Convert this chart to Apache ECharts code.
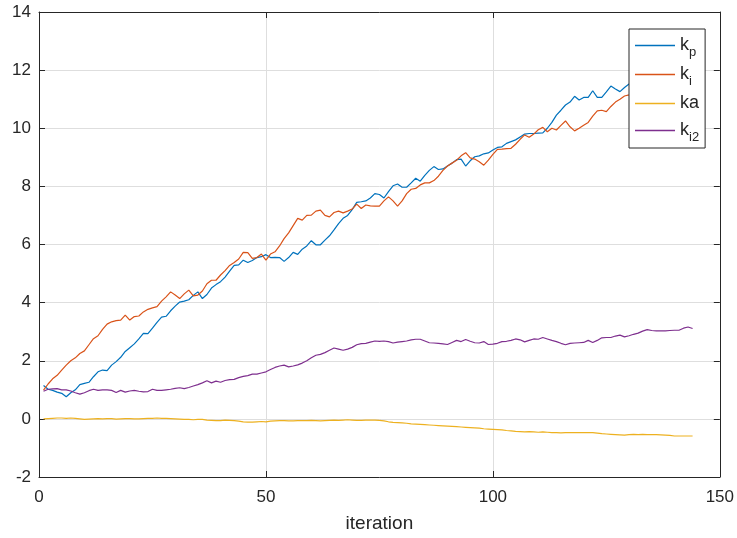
<!DOCTYPE html>
<html>
<head>
<meta charset="utf-8">
<script src="https://cdn.jsdelivr.net/npm/echarts@6/dist/echarts.min.js"></script>
<style>
  html, body { margin: 0; padding: 0; background: #fff; }
  #chart { width: 737px; height: 538px; }
</style>
</head>
<body>
<div id="chart"></div>
<script>
// values, one per iteration (1..144)
const kp = [
  1.15, 1.02, 0.98, 0.92, 0.88, 0.76, 0.90, 1.00, 1.18, 1.22,
  1.26, 1.45, 1.62, 1.68, 1.66, 1.85, 1.97, 2.12, 2.32, 2.45,
  2.58, 2.75, 2.94, 2.93, 3.12, 3.32, 3.50, 3.53, 3.72, 3.88,
  4.02, 4.05, 4.10, 4.25, 4.37, 4.14, 4.28, 4.50, 4.62, 4.72,
  4.88, 5.08, 5.28, 5.30, 5.46, 5.38, 5.45, 5.55, 5.58, 5.65,
  5.55, 5.56, 5.55, 5.42, 5.55, 5.73, 5.66, 5.84, 5.95, 6.13,
  5.99, 5.99, 6.15, 6.30, 6.50, 6.72, 6.90, 7.00, 7.20, 7.45,
  7.47, 7.50, 7.60, 7.75, 7.72, 7.60, 7.82, 8.02, 8.08, 7.97,
  7.97, 8.12, 8.28, 8.18, 8.38, 8.55, 8.68, 8.58, 8.60, 8.70,
  8.80, 8.92, 8.94, 8.70, 8.88, 9.02, 9.05, 9.12, 9.15, 9.25,
  9.34, 9.36, 9.48, 9.54, 9.60, 9.70, 9.80, 9.82, 9.82, 9.83,
  9.84, 10.00, 10.20, 10.45, 10.62, 10.80, 10.90, 11.10, 10.97, 11.06,
  11.06, 11.29, 11.06, 11.06, 11.25, 11.45, 11.35, 11.26, 11.40, 11.52,
  11.60, 11.70, 11.75, 11.85, 11.95, 12.00, 12.10, 12.15, 12.20, 12.30,
  12.35, 12.40, 12.50, 12.55
];
const ki = [
  0.99, 1.20, 1.38, 1.50, 1.68, 1.85, 2.00, 2.10, 2.25, 2.34,
  2.55, 2.76, 2.86, 3.08, 3.26, 3.34, 3.38, 3.40, 3.57, 3.40,
  3.52, 3.54, 3.68, 3.77, 3.82, 3.86, 4.05, 4.20, 4.37, 4.26,
  4.14, 4.30, 4.43, 4.23, 4.26, 4.40, 4.65, 4.77, 4.77, 4.95,
  5.10, 5.28, 5.38, 5.50, 5.73, 5.72, 5.52, 5.55, 5.67, 5.46,
  5.67, 5.75, 5.95, 6.20, 6.40, 6.65, 6.90, 6.84, 7.00, 7.01,
  7.15, 7.18, 7.00, 6.95, 7.10, 7.15, 7.09, 7.15, 7.22, 7.39,
  7.24, 7.36, 7.33, 7.32, 7.32, 7.50, 7.64, 7.50, 7.32, 7.50,
  7.75, 7.90, 7.93, 8.05, 8.12, 8.12, 8.20, 8.35, 8.55, 8.70,
  8.80, 8.90, 9.05, 9.16, 8.98, 8.94, 8.85, 8.73, 8.90, 9.10,
  9.27, 9.28, 9.30, 9.31, 9.45, 9.62, 9.77, 9.69, 9.80, 9.95,
  10.03, 9.88, 10.00, 9.94, 10.10, 10.25, 10.05, 9.91, 10.00, 10.10,
  10.20, 10.42, 10.60, 10.62, 10.57, 10.75, 10.90, 11.00, 11.11, 11.15,
  11.20, 11.30, 11.35, 11.40, 11.50, 11.55, 11.60, 11.65, 11.70, 11.75,
  11.80, 11.85, 11.90, 11.95
];
const ka = [
  0.00, 0.01, 0.02, 0.03, 0.03, 0.02, 0.03, 0.02, 0.00, -0.02,
  -0.01, 0.00, 0.01, 0.00, 0.01, 0.01, -0.01, 0.00, 0.01, 0.01,
  0.00, 0.00, 0.01, 0.02, 0.02, 0.03, 0.02, 0.02, 0.01, 0.00,
  -0.01, -0.02, -0.02, -0.03, -0.02, -0.02, -0.04, -0.05, -0.06, -0.06,
  -0.04, -0.05, -0.06, -0.08, -0.10, -0.11, -0.11, -0.10, -0.09, -0.10,
  -0.08, -0.07, -0.06, -0.06, -0.07, -0.07, -0.06, -0.06, -0.06, -0.05,
  -0.06, -0.07, -0.06, -0.05, -0.04, -0.05, -0.04, -0.03, -0.04, -0.05,
  -0.05, -0.04, -0.04, -0.04, -0.05, -0.07, -0.10, -0.12, -0.13, -0.14,
  -0.15, -0.17, -0.18, -0.19, -0.20, -0.21, -0.22, -0.23, -0.24, -0.25,
  -0.26, -0.27, -0.28, -0.29, -0.30, -0.31, -0.32, -0.34, -0.35, -0.36,
  -0.37, -0.38, -0.40, -0.41, -0.43, -0.44, -0.45, -0.44, -0.45, -0.46,
  -0.45, -0.46, -0.47, -0.47, -0.48, -0.47, -0.47, -0.47, -0.47, -0.47,
  -0.47, -0.47, -0.49, -0.51, -0.52, -0.53, -0.54, -0.55, -0.56, -0.54,
  -0.53, -0.54, -0.53, -0.54, -0.54, -0.54, -0.55, -0.56, -0.57, -0.59,
  -0.59, -0.59, -0.59, -0.59
];
const ki2 = [
  0.95, 1.02, 1.03, 1.04, 1.00, 1.00, 0.96, 0.90, 0.85, 0.90,
  0.97, 1.02, 0.98, 1.00, 1.00, 0.98, 0.91, 0.98, 0.92, 0.96,
  0.98, 0.95, 0.93, 0.94, 1.02, 0.98, 0.98, 1.00, 1.02, 1.05,
  1.07, 1.04, 1.08, 1.13, 1.18, 1.24, 1.31, 1.24, 1.30, 1.26,
  1.32, 1.35, 1.36, 1.42, 1.46, 1.49, 1.54, 1.54, 1.58, 1.62,
  1.70, 1.77, 1.82, 1.85, 1.79, 1.82, 1.86, 1.92, 2.00, 2.10,
  2.19, 2.22, 2.28, 2.36, 2.44, 2.40, 2.36, 2.40, 2.46, 2.55,
  2.59, 2.60, 2.64, 2.68, 2.67, 2.68, 2.66, 2.61, 2.64, 2.66,
  2.68, 2.72, 2.74, 2.74, 2.68, 2.62, 2.61, 2.60, 2.58, 2.56,
  2.63, 2.70, 2.66, 2.73, 2.67, 2.62, 2.61, 2.66, 2.56, 2.57,
  2.60, 2.66, 2.67, 2.70, 2.75, 2.72, 2.65, 2.70, 2.75, 2.74,
  2.80, 2.75, 2.70, 2.66, 2.60, 2.55, 2.60, 2.61, 2.62, 2.63,
  2.70, 2.63, 2.70, 2.79, 2.80, 2.80, 2.85, 2.88, 2.82, 2.86,
  2.91, 2.95, 3.02, 3.07, 3.04, 3.03, 3.03, 3.03, 3.04, 3.05,
  3.05, 3.12, 3.16, 3.11
];

const seriesNames = ['k{s|p}', 'k{s|i}', 'ka', 'k{s|i2}'];
const seriesColors = ['#0072BD', '#D95319', '#EDB120', '#7E2F8E'];
const xTicks = { min: 0, max: 150, interval: 50 };
const yTicks = { min: -2, max: 14, interval: 2 };

const font = 'Arial, "Liberation Sans", Helvetica, sans-serif';
const axisColor = '#262626';

function pairs(arr) {
  return arr.map((v, i) => [i + 1, v]);
}

const chart = echarts.init(document.getElementById('chart'), null, { renderer: 'canvas' });

const baseAxis = {
  axisLine: { show: true, onZero: false, lineStyle: { color: axisColor, width: 1 } },
  axisTick: { show: true, inside: true, length: 6, lineStyle: { color: axisColor } },
  splitLine: { show: false },
};

chart.setOption({
  backgroundColor: '#fff',
  animation: false,
  textStyle: { fontFamily: font },
  grid: { left: 39, right: 16, top: 12, bottom: 61, containLabel: false },
  legend: {
    orient: 'vertical',
    left: 629,
    top: 29,
    padding: [5, 6, 4, 6],
    itemGap: 4,
    itemWidth: 40,
    itemHeight: 1.5,
    backgroundColor: '#fff',
    borderColor: axisColor,
    borderWidth: 1,
    borderRadius: 0,
    data: seriesNames.map(n => ({ name: n, icon: 'path://M0,0 L40,0 L40,1.5 L0,1.5 Z' })),
    formatter: n => n,
    textStyle: {
      fontFamily: font,
      fontSize: 18,
      color: axisColor,
      lineHeight: 23,
      rich: {
        s: { fontSize: 13, fontFamily: font, color: axisColor, padding: [14, 0, 0, 0] }
      }
    }
  },
  xAxis: [
    Object.assign({}, baseAxis, {
      type: 'value', position: 'bottom',
      min: xTicks.min, max: xTicks.max, interval: xTicks.interval,
      name: 'iteration', nameLocation: 'middle', nameGap: 37,
      nameTextStyle: { fontSize: 19, color: axisColor, fontFamily: font },
      axisLabel: { fontSize: 17, color: axisColor, margin: 12, fontFamily: font },
      splitLine: { show: true, lineStyle: { color: '#dedede', width: 1 } }
    }),
    Object.assign({}, baseAxis, {
      type: 'value', position: 'top',
      min: xTicks.min, max: xTicks.max, interval: xTicks.interval,
      axisLabel: { show: false }
    })
  ],
  yAxis: [
    Object.assign({}, baseAxis, {
      type: 'value', position: 'left',
      min: yTicks.min, max: yTicks.max, interval: yTicks.interval,
      axisLabel: { fontSize: 17, color: axisColor, margin: 8, fontFamily: font },
      splitLine: { show: true, lineStyle: { color: '#dedede', width: 1 } }
    }),
    Object.assign({}, baseAxis, {
      type: 'value', position: 'right',
      min: yTicks.min, max: yTicks.max, interval: yTicks.interval,
      axisLabel: { show: false }
    })
  ],
  series: [kp, ki, ka, ki2].map((arr, i) => ({
    name: seriesNames[i],
    type: 'line',
    data: pairs(arr),
    symbol: 'none',
    color: seriesColors[i],
    lineStyle: { color: seriesColors[i], width: 1.2 },
    z: 2
  }))
});
</script>
</body>
</html>
